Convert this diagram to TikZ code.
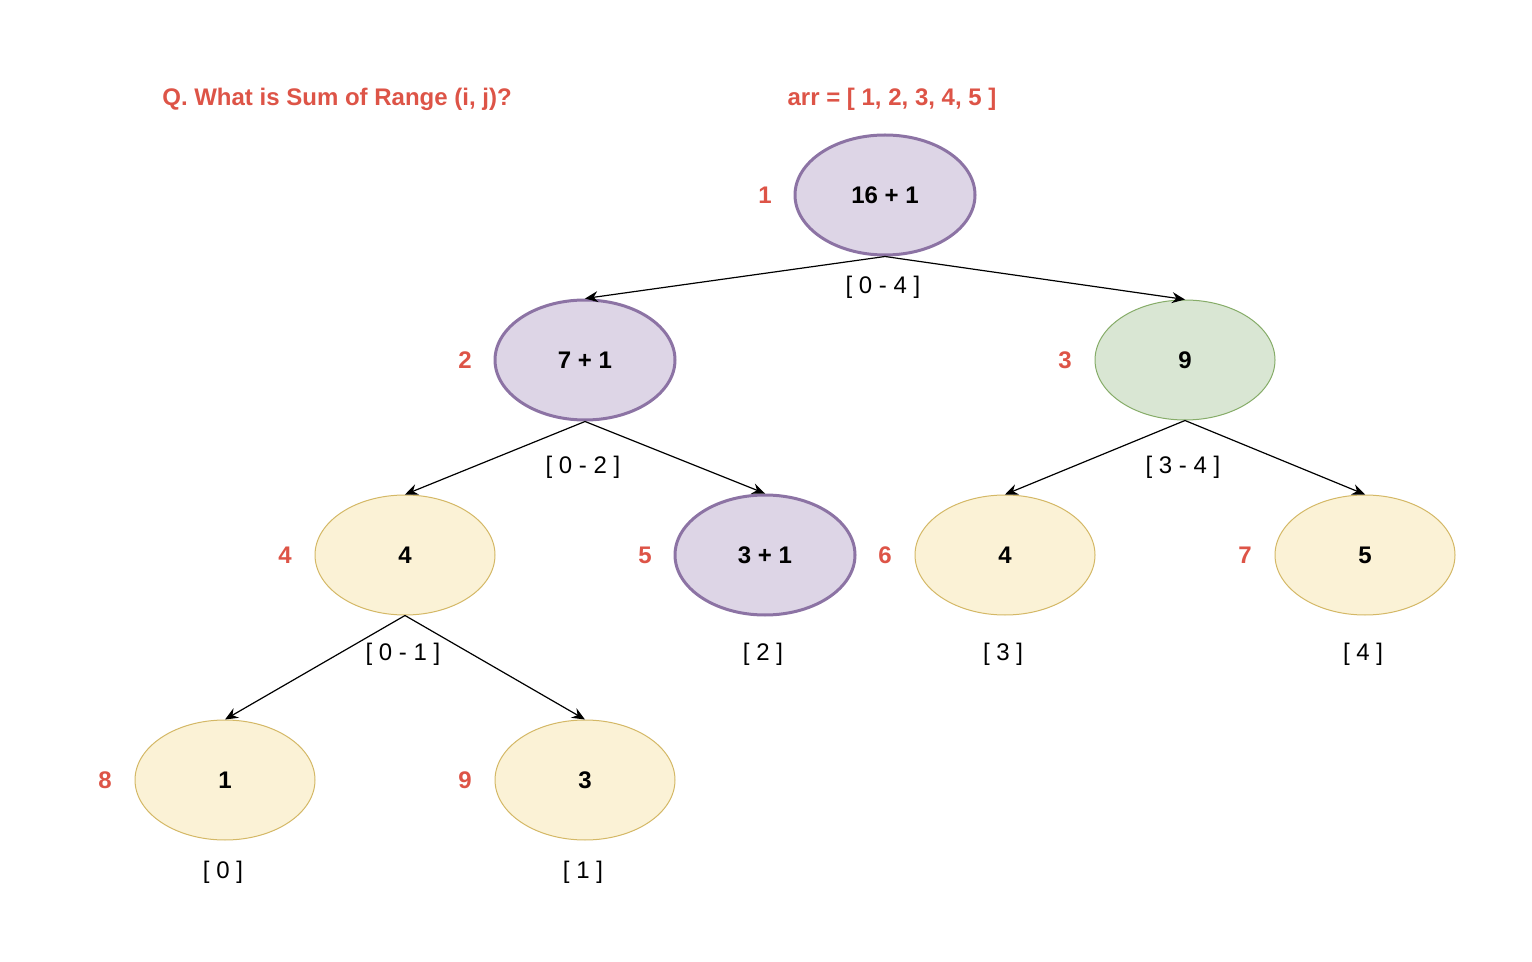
\documentclass[tikz,border=0pt]{standalone}
\usepackage{fontspec}
\setmainfont{Liberation Sans}
\usetikzlibrary{shapes.geometric,arrows.meta}
\definecolor{purfill}{HTML}{DDD5E6}
\definecolor{purline}{HTML}{8C73A4}
\definecolor{grnfill}{HTML}{D9E6D3}
\definecolor{grnline}{HTML}{86AC68}
\definecolor{yelfill}{HTML}{FBF2D6}
\definecolor{yelline}{HTML}{D4B866}
\definecolor{redtxt}{HTML}{DD5447}
\tikzset{
  ell/.style={ellipse, minimum width=90pt, minimum height=60pt, inner sep=0pt,
    font=\fontsize{12}{14}\selectfont\bfseries},
  pur/.style={ell, fill=purfill, draw=purline, line width=1.5pt},
  grn/.style={ell, fill=grnfill, draw=grnline, line width=0.5pt},
  yel/.style={ell, fill=yelfill, draw=yelline, line width=0.5pt},
  idx/.style={text=redtxt, font=\fontsize{12}{14}\selectfont\bfseries},
  rng/.style={font=\fontsize{12}{14}\selectfont},
  ttl/.style={text=redtxt, font=\fontsize{12}{14}\selectfont\bfseries},
  arr/.style={-{Stealth[length=6.5pt,width=5.5pt,inset=2.2pt]}, line width=0.6pt, black},
}
\begin{document}
\begin{tikzpicture}[x=0.5pt,y=-0.5pt]
\useasboundingbox (0,0) rectangle (1532,962);
\node[ttl] (q) at (337,99) {Q. What is Sum of Range (i, j)?};
\node[ttl] (arr) at (892,99) {arr = [ 1, 2, 3, 4, 5 ]};

\node[pur] (n1) at (885,195) {16 + 1};
\node[pur] (n2) at (585,360) {7 + 1};
\node[grn] (n3) at (1185,360) {9};
\node[yel] (n4) at (405,555) {4};
\node[pur] (n5) at (765,555) {3 + 1};
\node[yel] (n6) at (1005,555) {4};
\node[yel] (n7) at (1365,555) {5};
\node[yel] (n8) at (225,780) {1};
\node[yel] (n9) at (585,780) {3};

\node[idx] (i1) at (765,195) {1};
\node[idx] (i2) at (465,360) {2};
\node[idx] (i3) at (1065,360) {3};
\node[idx] (i4) at (285,555) {4};
\node[idx] (i5) at (645,555) {5};
\node[idx] (i6) at (885,555) {6};
\node[idx] (i7) at (1245,555) {7};
\node[idx] (i8) at (105,780) {8};
\node[idx] (i9) at (465,780) {9};

\node[rng] (r1) at (883,287) {[ 0 - 4 ]};
\node[rng] (r2) at (583,467) {[ 0 - 2 ]};
\node[rng] (r3) at (1183,467) {[ 3 - 4 ]};
\node[rng] (r4) at (403,654) {[ 0 - 1 ]};
\node[rng] (r5) at (763,654) {[ 2 ]};
\node[rng] (r6) at (1003,654) {[ 3 ]};
\node[rng] (r7) at (1363,654) {[ 4 ]};
\node[rng] (r8) at (223,872) {[ 0 ]};
\node[rng] (r9) at (583,872) {[ 1 ]};

\draw[arr] (n1.south) -- (n2.north);
\draw[arr] (n1.south) -- (n3.north);
\draw[arr] (n2.south) -- (n4.north);
\draw[arr] (n2.south) -- (n5.north);
\draw[arr] (n3.south) -- (n6.north);
\draw[arr] (n3.south) -- (n7.north);
\draw[arr] (n4.south) -- (n8.north);
\draw[arr] (n4.south) -- (n9.north);
\end{tikzpicture}
\end{document}
